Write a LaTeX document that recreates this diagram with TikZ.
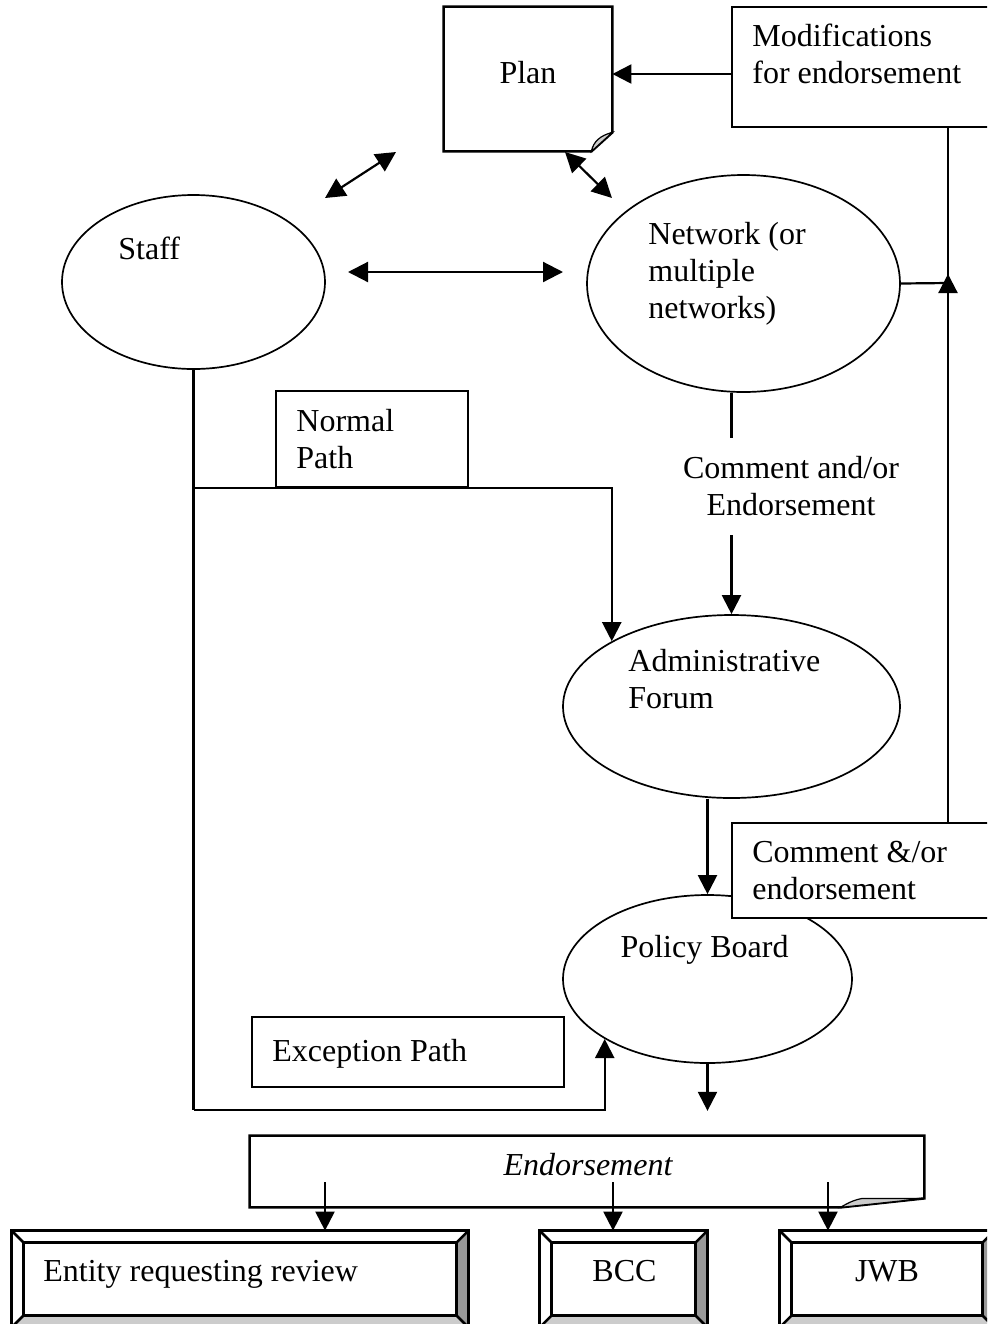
\documentclass[tikz,border=0pt]{standalone}
\usepackage{fontspec}
\setmainfont{Liberation Serif}
\usetikzlibrary{arrows.meta,shapes.geometric}
\definecolor{curl}{HTML}{CCCCCC}
\definecolor{bevdark}{HTML}{999999}
\definecolor{bevlight}{HTML}{CCCCCC}
\begin{document}
\begin{tikzpicture}[x=0.5pt,y=-0.5pt,
  every node/.style={font=\fontsize{16pt}{18.5pt}\selectfont, inner sep=0pt},
  conn/.style={line width=1.1pt},
  arr/.style={conn, -{Triangle[length=9.5pt,width=9.5pt]}},
  dbl/.style={conn, {Triangle[length=10pt,width=10pt]}-{Triangle[length=10pt,width=10pt]}},
  oval/.style={draw, ellipse, line width=0.85pt},
  box/.style={draw, line width=1.25pt, fill=white},
  shapeonly/.style={draw=none},
  bevel/.style={line width=1.25pt},
  txt/.style={anchor=base west, align=left},
  ctxt/.style={anchor=base, align=center}]
\useasboundingbox (0,0) rectangle (987,1324);
\clip (0,0) rectangle (987,1324);

% ---- ellipses ----
\node[oval, minimum width=131.5pt, minimum height=87pt] (staff) at (193.5,282) {};
\node[oval, minimum width=156.5pt, minimum height=108.5pt] (net) at (743.5,283.5) {};
\node[oval, minimum width=168.5pt, minimum height=91.5pt] (admin) at (731.5,706.5) {};
\node[oval, minimum width=144.5pt, minimum height=84pt] (pb) at (707.5,979) {};

% ---- plan sheet with curled corner ----
\node[shapeonly, minimum width=84pt, minimum height=72pt] (plan) at (528,79) {};
\draw[line width=1.25pt, fill=white] (plan.north west) -- (plan.north east)
  -- ([shift={(0,-19)}]plan.south east) -- ([shift={(-21,0)}]plan.south east)
  -- (plan.south west) -- cycle;
\filldraw[fill=curl, line width=0.6pt] ([shift={(-21,0)}]plan.south east)
  .. controls ([shift={(-19,-10)}]plan.south east) and ([shift={(-12,-16)}]plan.south east)
  .. ([shift={(0,-19)}]plan.south east) -- cycle;

% ---- boxes ----
\node[box, minimum width=134pt, minimum height=60pt] (mod) at (866,67) {};
\node[box, minimum width=96pt, minimum height=48pt] (np) at (372,439) {};
\node[box, minimum width=156pt, minimum height=35pt] (ex) at (408,1052) {};

% ---- free ends of the floating connectors ----
\coordinate (sp1) at (325,198);
\coordinate (sp2) at (396,152);
\coordinate (pn1) at (565,152);
\coordinate (pn2) at (612,198);
\coordinate (sn1) at (348,272);
\coordinate (sn2) at (563,272);
\coordinate (jx) at (948,283);
\coordinate (ybot) at (0,1110);

% ---- connectors ----
\draw[dbl] (sp1) -- (sp2);
\draw[dbl] (pn1) -- (pn2);
\draw[dbl] (sn1) -- (sn2);
\draw[arr] ([shift={(0,7)}]mod.west) -- ([shift={(0,7)}]mod.west -| plan.east);

\draw[conn] (net.east) -- (jx);
\draw[conn] (jx |- mod.south) -- (jx);

\node[ctxt, anchor=center, minimum height=48.5pt] (lbl) at (791,486.5)
  {Comment and/or\\Endorsement};
\draw[conn] (admin.north |- net.south) -- (admin.north |- lbl.north);
\draw[arr] (admin.north |- lbl.south) -- (admin.north);

\draw[arr] (pb.north |- admin.south) -- (pb.north);

\draw[conn] (staff.south) -- (staff.south |- ybot);
\draw[arr] (staff.south |- np.south) -| (admin.north west);
\draw[arr] (staff.south |- ybot) -| (pb.south west);
\draw[arr] (pb.south) -- ++(0,47);

% box drawn over the policy board
\node[box, minimum width=134pt, minimum height=47.5pt] (com) at (866,870.5) {};
\draw[arr] (jx |- com.north) -- ([shift={(0,-9)}]jx);

% ---- endorsement sheet with curled corner ----
\node[shapeonly, minimum width=337pt, minimum height=35.5pt] (endo) at (587,1171.5) {};
\draw[line width=1.25pt, fill=white] (endo.north west) -- (endo.north east)
  -- ([shift={(0,-9)}]endo.south east) -- ([shift={(-84,0)}]endo.south east)
  -- (endo.south west) -- cycle;
\filldraw[fill=curl, line width=0.6pt] ([shift={(-84,0)}]endo.south east)
  .. controls ([shift={(-74,-6)}]endo.south east) and ([shift={(-68,-8)}]endo.south east)
  .. ([shift={(-62,-9)}]endo.south east) -- ([shift={(0,-9)}]endo.south east) -- cycle;

% ---- bevelled destination boxes ----
\node[shapeonly, minimum width=228pt, minimum height=48pt] (ent) at (240,1279) {};
\node[shapeonly, minimum width=83.5pt, minimum height=48pt] (bcc) at (623.5,1279) {};
\node[shapeonly, minimum width=107pt, minimum height=48pt] (jwb) at (887,1279) {};
\foreach \n in {ent,bcc,jwb}{
  \fill[white] (\n.north west) rectangle (\n.south east);
  \fill[bevdark] (\n.north east) -- (\n.south east) -- ([shift={(-12,-12)}]\n.south east)
    -- ([shift={(-12,12)}]\n.north east) -- cycle;
  \fill[bevlight] (\n.south west) -- (\n.south east) -- ([shift={(-12,-12)}]\n.south east)
    -- ([shift={(12,-12)}]\n.south west) -- cycle;
  \draw[bevel] (\n.north west) rectangle (\n.south east);
  \draw[bevel] ([shift={(12,12)}]\n.north west) rectangle ([shift={(-12,-12)}]\n.south east);
  \draw[bevel] (\n.north west) -- ([shift={(12,12)}]\n.north west);
  \draw[bevel] (\n.north east) -- ([shift={(-12,12)}]\n.north east);
  \draw[bevel] (\n.south west) -- ([shift={(12,-12)}]\n.south west);
  \draw[bevel] (\n.south east) -- ([shift={(-12,-12)}]\n.south east);
}

\coordinate (e1) at (325,1182);
\coordinate (e2) at (613,1182);
\coordinate (e3) at (828,1182);
\draw[arr] (e1) -- (e1 |- ent.north);
\draw[arr] (e2) -- (e2 |- bcc.north);
\draw[arr] (e3) -- (e3 |- jwb.north);

% ---- texts (base anchor sits on the last line) ----
\node[ctxt] (plantxt) at (528,83) {Plan};
\node[txt] (modtxt) at (752,83) {Modifications\\for endorsement};
\node[txt] (stafftxt) at (118,259) {Staff};
\node[txt] (nettxt) at (648,318) {Network (or\\multiple\\networks)};
\node[txt] (nptxt) at (296,468) {Normal\\Path};
\node[txt] (admtxt) at (628,708) {Administrative\\Forum};
\node[ctxt] (pbtxt) at (704.5,957) {Policy Board};
\node[txt] (comtxt) at (752,899) {Comment \&/or\\endorsement};
\node[txt] (extxt) at (272,1061) {Exception Path};
\node[ctxt] (endtxt) at (588,1175) {\itshape Endorsement};
\node[txt] (enttxt) at (43,1281) {Entity requesting review};
\node[ctxt] (bcctxt) at (624.5,1281) {BCC};
\node[ctxt] (jwbtxt) at (887,1281) {JWB};
\end{tikzpicture}
\end{document}
